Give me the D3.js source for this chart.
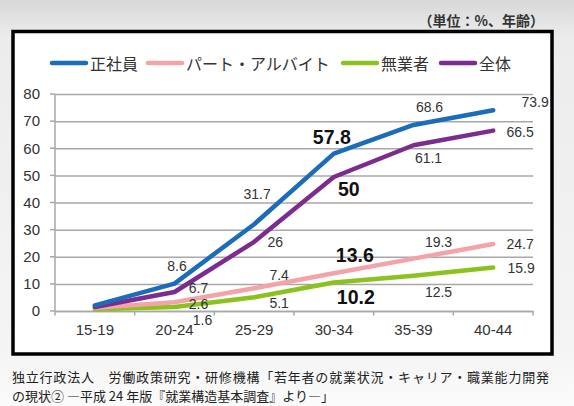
<!DOCTYPE html>
<html>
<head>
<meta charset="utf-8">
<script src="https://cdn.jsdelivr.net/npm/d3@7"></script>
<style>
  html, body { margin: 0; padding: 0; background: #fff; }
  svg { display: block; }
</style>
</head>
<body>
<svg id="chart" width="574" height="406"></svg>
<script>
// ---- data ----
const categories = ["15-19", "20-24", "25-29", "30-34", "35-39", "40-44"];
const seriesNames = ["正社員", "パート・アルバイト", "無業者", "全体"];
const seiShain = [2.1, 10.1, 32.0, 58.0, 68.6, 74.0];
const partArbeit = [1.2, 3.2, 8.4, 13.9, 19.3, 24.7];
const mugyosha = [0.6, 1.5, 5.1, 10.5, 13.0, 16.0];
const zentai = [1.5, 7.0, 25.5, 49.4, 61.1, 66.5];
const seiShainLabels = ["", "8.6", "31.7", "57.8", "68.6", "73.9"];
const partArbeitLabels = ["", "2.6", "7.4", "13.6", "19.3", "24.7"];
const mugyoshaLabels = ["", "1.6", "5.1", "10.2", "12.5", "15.9"];
const zentaiLabels = ["", "6.7", "26", "50", "61.1", "66.5"];
const yTicks = [0, 10, 20, 30, 40, 50, 60, 70, 80];
const unitText = "（単位：%、年齢）";
const sourceLines = [
  "独立行政法人　労働政策研究・研修機構「若年者の就業状況・キャリア・職業能力開発",
  "の現状② ―平成 24 年版『就業構造基本調査』より―」"
];

// ---- styles / layout (not data) ----
const colors = ["#1b6db9", "#f4a3a9", "#8cc21f", "#7c2b8f"];
const boldLabels = { "57.8": true, "50": true, "13.6": true, "10.2": true };
// label offsets from the point [dx, dy] per series
const labelOffsets = [
  [[0,0],[2.5,-17.6],[3,-30],[-2,-16.5],[16,-18],[42,-8]],
  [[0,0],[24,2],[25,-13],[21,-18],[25,-17],[27,0]],
  [[0,0],[28,13.5],[25,6],[22,14],[25,16],[28,0]],
  [[0,0],[24,-4],[21,0],[15,12],[15,13],[27,1]]
];
const legendX = [52, 148, 343, 441];

const svg = d3.select("#chart");
const W = 574, H = 406;
const latin = "'Liberation Sans', Arial, Helvetica, sans-serif";
const cjk = "'Noto Sans CJK JP', 'Noto Sans', sans-serif";

// background
const defs = svg.append("defs");
const bg = defs.append("linearGradient").attr("id", "bg").attr("x1", 0).attr("y1", 0).attr("x2", 0).attr("y2", 1);
bg.append("stop").attr("offset", "0").attr("stop-color", "#d8d8d8");
bg.append("stop").attr("offset", "0.09").attr("stop-color", "#ececec");
bg.append("stop").attr("offset", "0.85").attr("stop-color", "#f4f4f4");
bg.append("stop").attr("offset", "1").attr("stop-color", "#fbfbfb");
svg.append("rect").attr("width", W).attr("height", H).attr("fill", "url(#bg)");

// unit label
svg.append("text").attr("x", 544).attr("y", 20).attr("text-anchor", "end")
  .attr("dominant-baseline", "central")
  .attr("font-family", cjk).attr("font-size", 14).attr("font-weight", "bold")
  .attr("fill", "#333").text(unitText);

// chart box
svg.append("rect").attr("x", 13).attr("y", 31.5).attr("width", 539).attr("height", 322.5)
  .attr("fill", "#fff").attr("stroke", "#000").attr("stroke-width", 3.5);

// scales
const x = d3.scaleBand().domain(categories).range([55, 533]).padding(0);
const y = d3.scaleLinear().domain([0, 80]).range([311, 94]);

// gridlines + y labels
const yAxis = svg.append("g").attr("transform", "translate(55,0)")
  .call(d3.axisLeft(y).tickValues(yTicks).tickSizeInner(-478).tickSizeOuter(0).tickPadding(15));
yAxis.select(".domain").remove();
yAxis.selectAll(".tick line").attr("stroke", "#a8a8a8").attr("stroke-width", 1.5);
yAxis.selectAll(".tick text").attr("font-family", latin).attr("font-size", 15).attr("fill", "#333");
// small left stubs
svg.append("g").selectAll("line").data(yTicks).join("line")
  .attr("x1", 50).attr("x2", 55).attr("y1", d => y(d)).attr("y2", d => y(d))
  .attr("stroke", "#a8a8a8").attr("stroke-width", 1.5);
// y axis line
svg.append("line").attr("x1", 55).attr("x2", 55).attr("y1", y(80)).attr("y2", y(0))
  .attr("stroke", "#a8a8a8").attr("stroke-width", 1.5);

// x axis
const xAxis = svg.append("g").attr("transform", `translate(0,${y(0)})`)
  .call(d3.axisBottom(x).tickSize(0).tickPadding(13));
xAxis.select(".domain").attr("stroke", "#a8a8a8").attr("stroke-width", 1.5);
xAxis.selectAll(".tick text").attr("font-family", latin).attr("font-size", 15).attr("fill", "#333");
const edges = categories.map(c => x(c)).concat([x(categories[categories.length - 1]) + x.bandwidth()]);
svg.append("g").selectAll("line").data(edges).join("line")
  .attr("x1", d => d).attr("x2", d => d).attr("y1", y(0)).attr("y2", y(0) + 4.5)
  .attr("stroke", "#a8a8a8").attr("stroke-width", 1.5);

// lines
const seriesValues = [seiShain, partArbeit, mugyosha, zentai];
const seriesLabels = [seiShainLabels, partArbeitLabels, mugyoshaLabels, zentaiLabels];
const line = d3.line().x((d, i) => x(categories[i]) + x.bandwidth() / 2).y(d => y(d));
const drawOrder = [2, 1, 3, 0];
drawOrder.forEach(s => {
  svg.append("path").datum(seriesValues[s]).attr("d", line)
    .attr("fill", "none").attr("stroke", colors[s]).attr("stroke-width", 4.5)
    .attr("stroke-linejoin", "round").attr("stroke-linecap", "round");
});

// data labels
seriesValues.forEach((vals, s) => {
  vals.forEach((v, i) => {
    const t = seriesLabels[s][i];
    if (!t) return;
    const off = labelOffsets[s][i];
    const bold = !!boldLabels[t];
    svg.append("text")
      .attr("x", x(categories[i]) + x.bandwidth() / 2 + off[0])
      .attr("y", y(v) + off[1])
      .attr("text-anchor", "middle").attr("dominant-baseline", "central")
      .attr("font-family", latin).attr("font-size", bold ? 19.5 : 14)
      .attr("font-weight", bold ? "bold" : "normal")
      .attr("fill", bold ? "#111" : "#333").text(t);
  });
});

// legend
seriesNames.forEach((name, s) => {
  const lx = legendX[s];
  svg.append("line").attr("x1", lx).attr("x2", lx + 34).attr("y1", 63).attr("y2", 63)
    .attr("stroke", colors[s]).attr("stroke-width", 4.5).attr("stroke-linecap", "round");
  svg.append("text").attr("x", lx + 38).attr("y", 63).attr("dominant-baseline", "central")
    .attr("font-family", cjk).attr("font-size", 16).attr("fill", "#333").text(name);
});

// source
sourceLines.forEach((t, i) => {
  const el = svg.append("text").attr("x", 12).attr("y", 376 + i * 19)
    .attr("dominant-baseline", "central")
    .attr("font-family", cjk).attr("font-size", 13).attr("fill", "#222").text(t);
  if (i === 0) el.attr("textLength", 537).attr("lengthAdjust", "spacing");
});
</script>
</body>
</html>
